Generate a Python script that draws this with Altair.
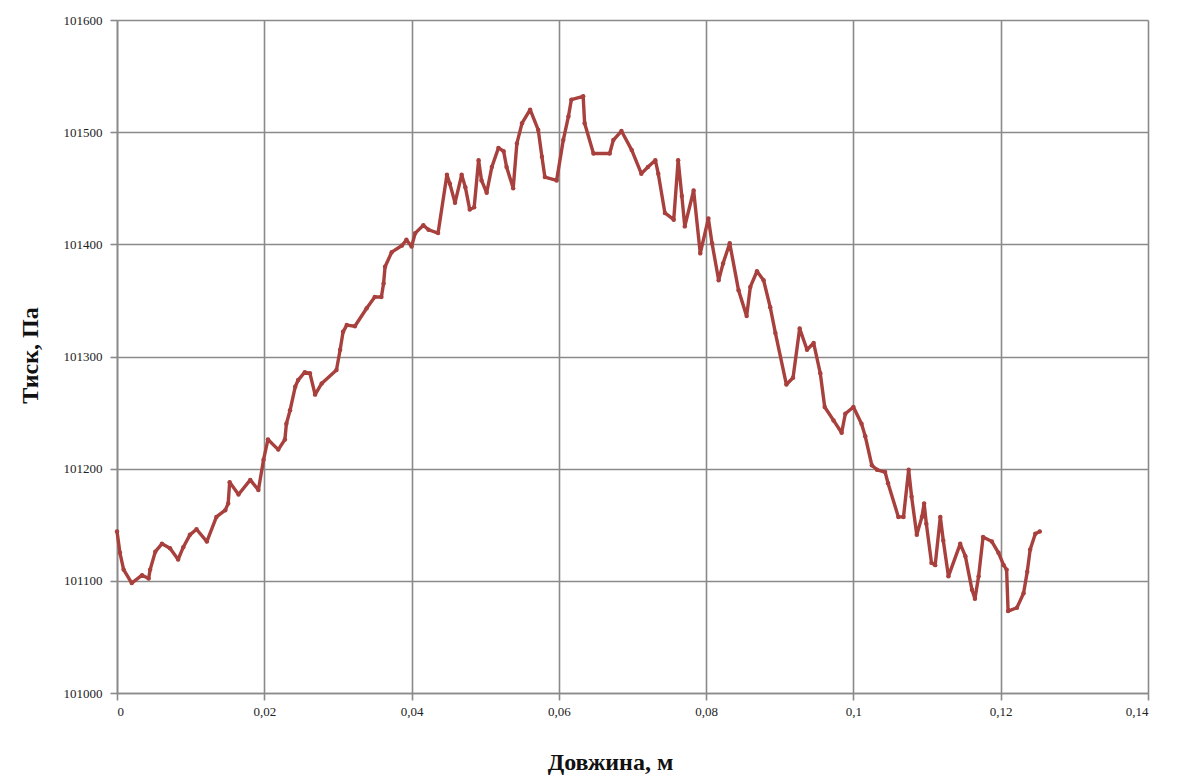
import altair as alt
import pandas as pd

# Position along the sample, m
length_m = [
    0.0, 0.0004, 0.0009, 0.0020, 0.0034, 0.0043, 0.0045, 0.0052, 0.0061, 0.0072,
    0.0083, 0.0090, 0.0099, 0.0108, 0.0122, 0.0135, 0.0147, 0.0151, 0.0153, 0.0165,
    0.0181, 0.0192, 0.0199, 0.0205, 0.0219, 0.0228, 0.0230, 0.0235, 0.0242, 0.0246,
    0.0255, 0.0262, 0.0269, 0.0278, 0.0298, 0.0303, 0.0307, 0.0312, 0.0323, 0.0339,
    0.0350, 0.0359, 0.0362, 0.0364, 0.0373, 0.0387, 0.0393, 0.0400, 0.0405, 0.0416,
    0.0423, 0.0436, 0.0448, 0.0452, 0.0459, 0.0468, 0.0473, 0.0479, 0.0485, 0.0491,
    0.0495, 0.0502, 0.0509, 0.0518, 0.0525, 0.0529, 0.0538, 0.0543, 0.0550, 0.0561,
    0.0572, 0.0577, 0.0581, 0.0597, 0.0606, 0.0613, 0.0617, 0.0633, 0.0635, 0.0647,
    0.0669, 0.0674, 0.0685, 0.0699, 0.0712, 0.0721, 0.0731, 0.0735, 0.0744, 0.0756,
    0.0762, 0.0767, 0.0771, 0.0783, 0.0792, 0.0803, 0.0808, 0.0817, 0.0823, 0.0832,
    0.0844, 0.0855, 0.0860, 0.0869, 0.0878, 0.0887, 0.0894, 0.0909, 0.0918, 0.0927,
    0.0937, 0.0946, 0.0955, 0.0961, 0.0973, 0.0984, 0.0989, 0.1000, 0.1011, 0.1016,
    0.1025, 0.1032, 0.1043, 0.1047, 0.1061, 0.1068, 0.1075, 0.1079, 0.1086, 0.1093,
    0.1096, 0.1099, 0.1106, 0.1111, 0.1118, 0.1122, 0.1129, 0.1145, 0.1152, 0.1161,
    0.1165, 0.1170, 0.1176, 0.1188, 0.1197, 0.1204, 0.1208, 0.1210, 0.1222, 0.1231,
    0.1236, 0.1240, 0.1247, 0.1253,
]

# Measured pressure, Pa
pressure_pa = [
    101144, 101125, 101110, 101098, 101105, 101102, 101110, 101126, 101133, 101129,
    101119, 101130, 101141, 101146, 101135, 101157, 101163, 101169, 101188, 101177,
    101190, 101181, 101208, 101226, 101217, 101226, 101240, 101252, 101273, 101279,
    101286, 101285, 101266, 101276, 101288, 101306, 101322, 101328, 101327, 101343,
    101353, 101353, 101365, 101380, 101393, 101399, 101404, 101398, 101410, 101417,
    101413, 101410, 101462, 101454, 101437, 101462, 101451, 101431, 101433, 101475,
    101457, 101446, 101469, 101486, 101483, 101469, 101450, 101490, 101508, 101520,
    101502, 101478, 101460, 101457, 101493, 101514, 101529, 101532, 101508, 101481,
    101481, 101493, 101501, 101484, 101463, 101469, 101475, 101463, 101428, 101422,
    101475, 101443, 101416, 101448, 101392, 101423, 101401, 101368, 101383, 101401,
    101359, 101336, 101362, 101376, 101368, 101344, 101321, 101275, 101281, 101325,
    101306, 101312, 101285, 101255, 101243, 101232, 101249, 101255, 101240, 101229,
    101203, 101199, 101197, 101187, 101157, 101157, 101199, 101175, 101141, 101157,
    101169, 101151, 101116, 101114, 101157, 101136, 101104, 101133, 101122, 101092,
    101084, 101104, 101139, 101135, 101125, 101114, 101110, 101073, 101076, 101089,
    101108, 101128, 101142, 101144,
]

x_ticks = [0, 0.02, 0.04, 0.06, 0.08, 0.10, 0.12, 0.14]
y_ticks = [101000, 101100, 101200, 101300, 101400, 101500, 101600]

df = pd.DataFrame({"x": length_m, "p": pressure_pa})

LINE = "#a8403d"
GRID = "#8a8a8a"
SERIF = "Liberation Serif"

x_enc = alt.X(
    "x:Q",
    scale=alt.Scale(domain=[0, 0.14], nice=False, zero=False),
    axis=alt.Axis(
        values=x_ticks,
        labelExpr="replace(format(datum.value, '~g'), '.', ',')",
        title="Довжина, м",
        titleX=493,
        titleY=69,
        titleBaseline="middle",
        labelPadding=5,
    ),
)
y_enc = alt.Y(
    "p:Q",
    scale=alt.Scale(domain=[101000, 101600], nice=False, zero=False),
    axis=alt.Axis(
        values=y_ticks,
        format="d",
        title="Тиск, Па",
        titleAngle=270,
        titleX=-87,
        titleY=335,
        titleBaseline="middle",
        labelPadding=8,
    ),
)

base = alt.Chart(df).encode(x=x_enc, y=y_enc)
line = base.mark_line(color=LINE, strokeWidth=3.4, strokeJoin="round", strokeCap="round")
dots = base.mark_circle(color=LINE, size=20, opacity=1)

chart = (
    alt.layer(line, dots)
    .properties(
        width=1031,
        height=673,
        autosize=alt.AutoSizeParams(type="none"),
        padding={"left": 117, "top": 20, "right": 30, "bottom": 85},
        background="white",
    )
    .configure_view(strokeWidth=0)
    .configure_axis(
        grid=True,
        gridColor=GRID,
        gridWidth=1.6,
        gridOpacity=1,
        domainColor=GRID,
        domainWidth=1.6,
        tickColor=GRID,
        tickWidth=1.6,
        tickSize=7,
        labelFont=SERIF,
        labelFontSize=13,
        labelColor="#222222",
        titleFont=SERIF,
        titleFontSize=24,
        titleFontWeight="bold",
        titleColor="#111111",
    )
)

chart.save("out.html", embed_options={"renderer": "svg", "actions": False})
